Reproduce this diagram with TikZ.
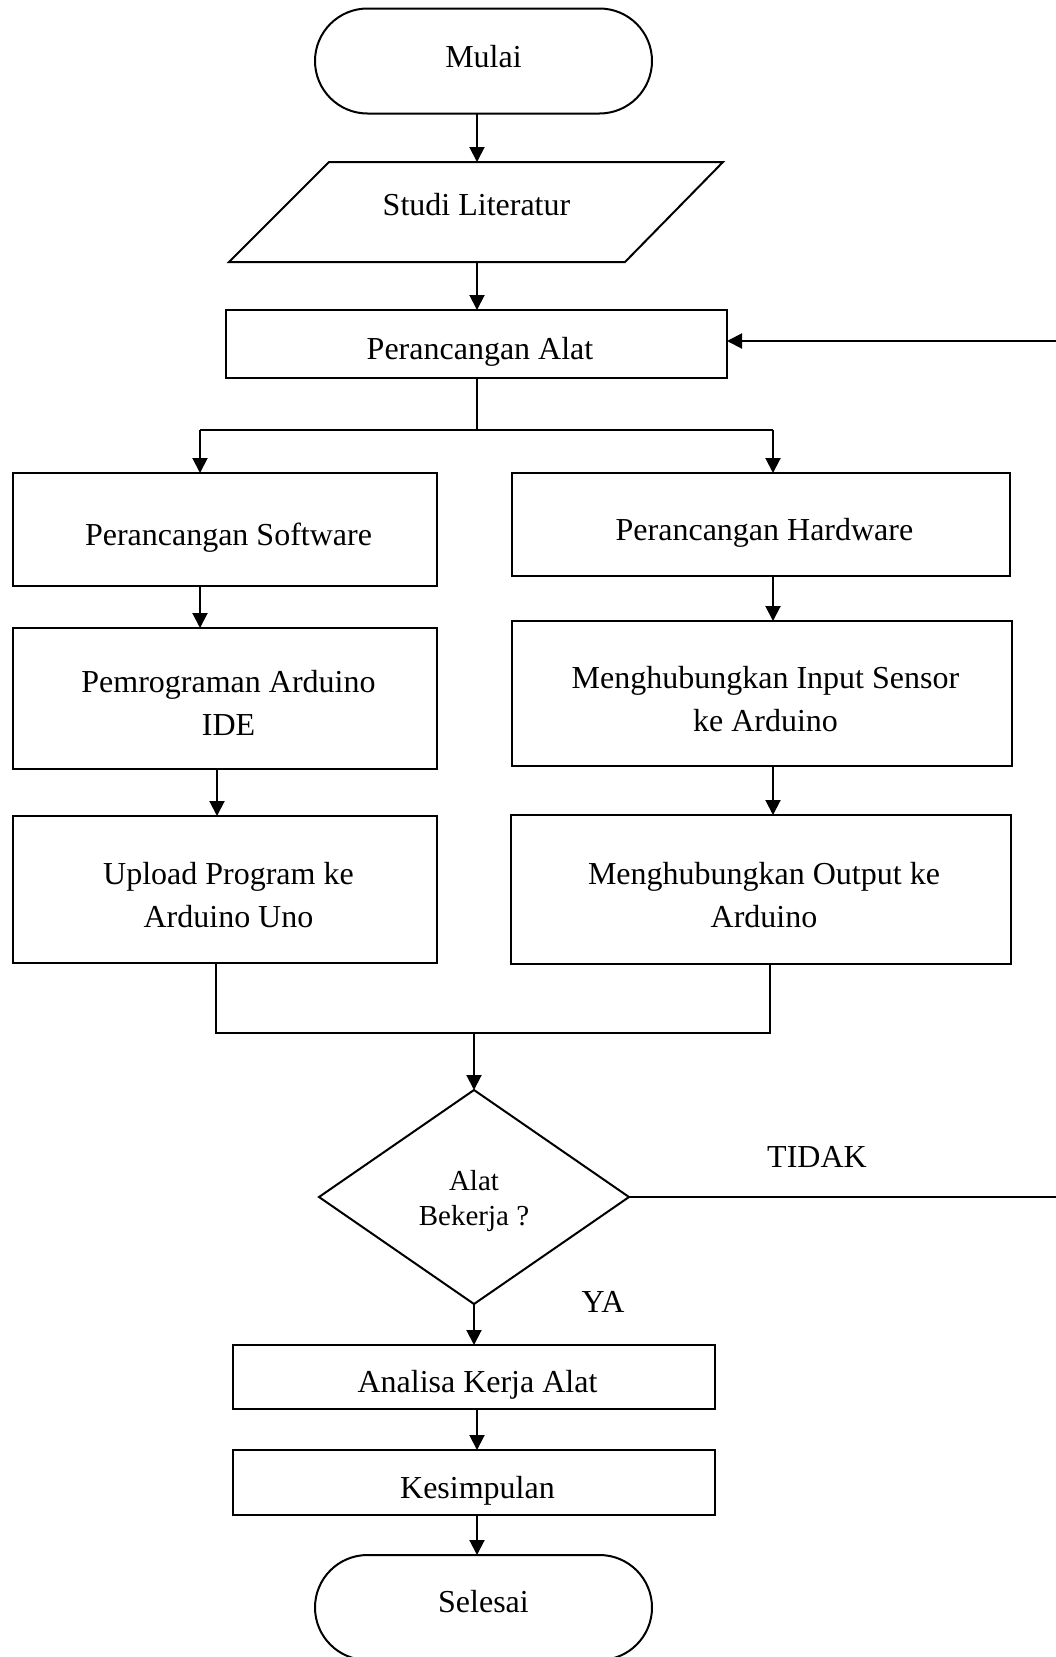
\documentclass[tikz,border=0pt]{standalone}
\usepackage{fontspec}
\setmainfont{Liberation Serif}
\usetikzlibrary{shapes.geometric,shapes.misc,arrows.meta}
% #1 left pad, #2 first-row height, #3 last-row depth, #4 text
\newcommand\btx[4]{\begin{tabular}{@{\hspace{#1pt}}c@{}}\rule{0pt}{#2pt}#4\rule[-#3pt]{0pt}{#3pt}\end{tabular}}
\begin{document}
\begin{tikzpicture}[x=1pt,y=-1pt,
  every node/.style={inner sep=0pt,outer sep=0pt},
  ln/.style={line width=2pt,draw=black},
  arr/.style={line width=2pt,-{Triangle[length=15pt,width=15pt]}},
  txt/.style={font=\fontsize{32}{43}\selectfont,align=center},
  box/.style={ln,rectangle,font=\fontsize{32}{43}\selectfont},
  term/.style={ln,rounded rectangle,font=\fontsize{32}{43}\selectfont,minimum width=337pt,minimum height=105pt},
  dia/.style={ln,diamond,font=\fontsize{29}{35}\selectfont,align=center,minimum width=310pt,minimum height=214pt}
]
\useasboundingbox (0,0) rectangle (1055,1657);
% nodes
\node[term] (mulai) at (483.5,61) {\btx{0}{30}{18.1}{Mulai}};
\node[font=\fontsize{32}{43}\selectfont,minimum width=394pt,minimum height=100pt] (studi) at (476.5,212) {\btx{0}{30}{24.1}{Studi Literatur}};
\draw[ln,line join=miter] (329,162) -- (723,162) -- (625,262) -- (229,262) -- cycle;
\node[box,minimum width=501pt,minimum height=68pt] (alat) at (476.5,344) {\btx{7}{44}{12.9}{Perancangan Alat}};
\node[box,minimum width=424pt,minimum height=113pt] (soft) at (225,529.5) {\btx{7}{44}{12.9}{Perancangan Software}};
\node[box,minimum width=498pt,minimum height=103pt] (hard) at (761,524.5) {\btx{7}{44}{12.9}{Perancangan Hardware}};
\node[box,minimum width=424pt,minimum height=141pt] (prog) at (225,698.5) {\btx{7}{44}{12.9}{Pemrograman Arduino\\IDE}};
\node[box,minimum width=500pt,minimum height=145pt] (input) at (762,693.5) {\btx{7}{46}{12.9}{Menghubungkan Input Sensor\\ke Arduino}};
\node[box,minimum width=424pt,minimum height=147pt] (upload) at (225,889.5) {\btx{7}{46.4}{12.9}{Upload Program ke\\Arduino Uno}};
\node[box,minimum width=500pt,minimum height=149pt] (output) at (761,889.5) {\btx{6}{46.4}{12.9}{Menghubungkan Output ke\\Arduino}};
\node[dia] (dec) at (474,1197) {\rule{0pt}{28pt}Alat\\Bekerja ?};
\node[box,minimum width=482pt,minimum height=64pt] (analisa) at (474,1377) {\btx{7}{44}{12.9}{Analisa Kerja Alat}};
\node[box,minimum width=482pt,minimum height=65pt] (kes) at (474,1482.5) {\btx{7}{44}{12.9}{Kesimpulan}};
\node[term] (selesai) at (483.5,1607.5) {\btx{0}{30}{19.7}{Selesai}};
\node[txt] (tidak) at (817,1157) {TIDAK};
\node[txt] (ya) at (603,1302) {YA};
% coordinates
\coordinate (cx) at (477,0);
\coordinate (sp) at (476.5,430);
\coordinate (spL) at (200,430);
\coordinate (spR) at (773,430);
\coordinate (lx2) at (217,0);
\coordinate (mgL) at (216,1033);
\coordinate (mgR) at (770,1033);
\coordinate (fbR) at (1056,341);
\coordinate (tdR) at (1056,1197);
% connectors
\draw[arr] (mulai.south -| cx) -- (studi.north -| cx);
\draw[arr] (studi.south -| cx) -- (alat.north -| cx);
\draw[arr] (fbR) -- (alat.east |- fbR);
\draw[ln] (alat.south) -- (sp);
\draw[ln] (spL) -- (spR);
\draw[arr] (spL) -- (spL |- soft.north);
\draw[arr] (spR) -- (spR |- hard.north);
\draw[arr] (soft.south -| spL) -- (prog.north -| spL);
\draw[arr] (prog.south -| lx2) -- (upload.north -| lx2);
\draw[arr] (hard.south -| spR) -- (input.north -| spR);
\draw[arr] (input.south -| spR) -- (output.north -| spR);
\draw[ln] (upload.south -| mgL) -- (mgL) -- (mgR) -- (output.south -| mgR);
\draw[arr] (dec.north |- mgL) -- (dec.north);
\draw[ln] (dec.east) -- (tdR);
\draw[arr] (dec.south) -- (analisa.north);
\draw[arr] (analisa.south -| cx) -- (kes.north -| cx);
\draw[arr] (kes.south -| cx) -- (selesai.north -| cx);
\end{tikzpicture}
\end{document}
